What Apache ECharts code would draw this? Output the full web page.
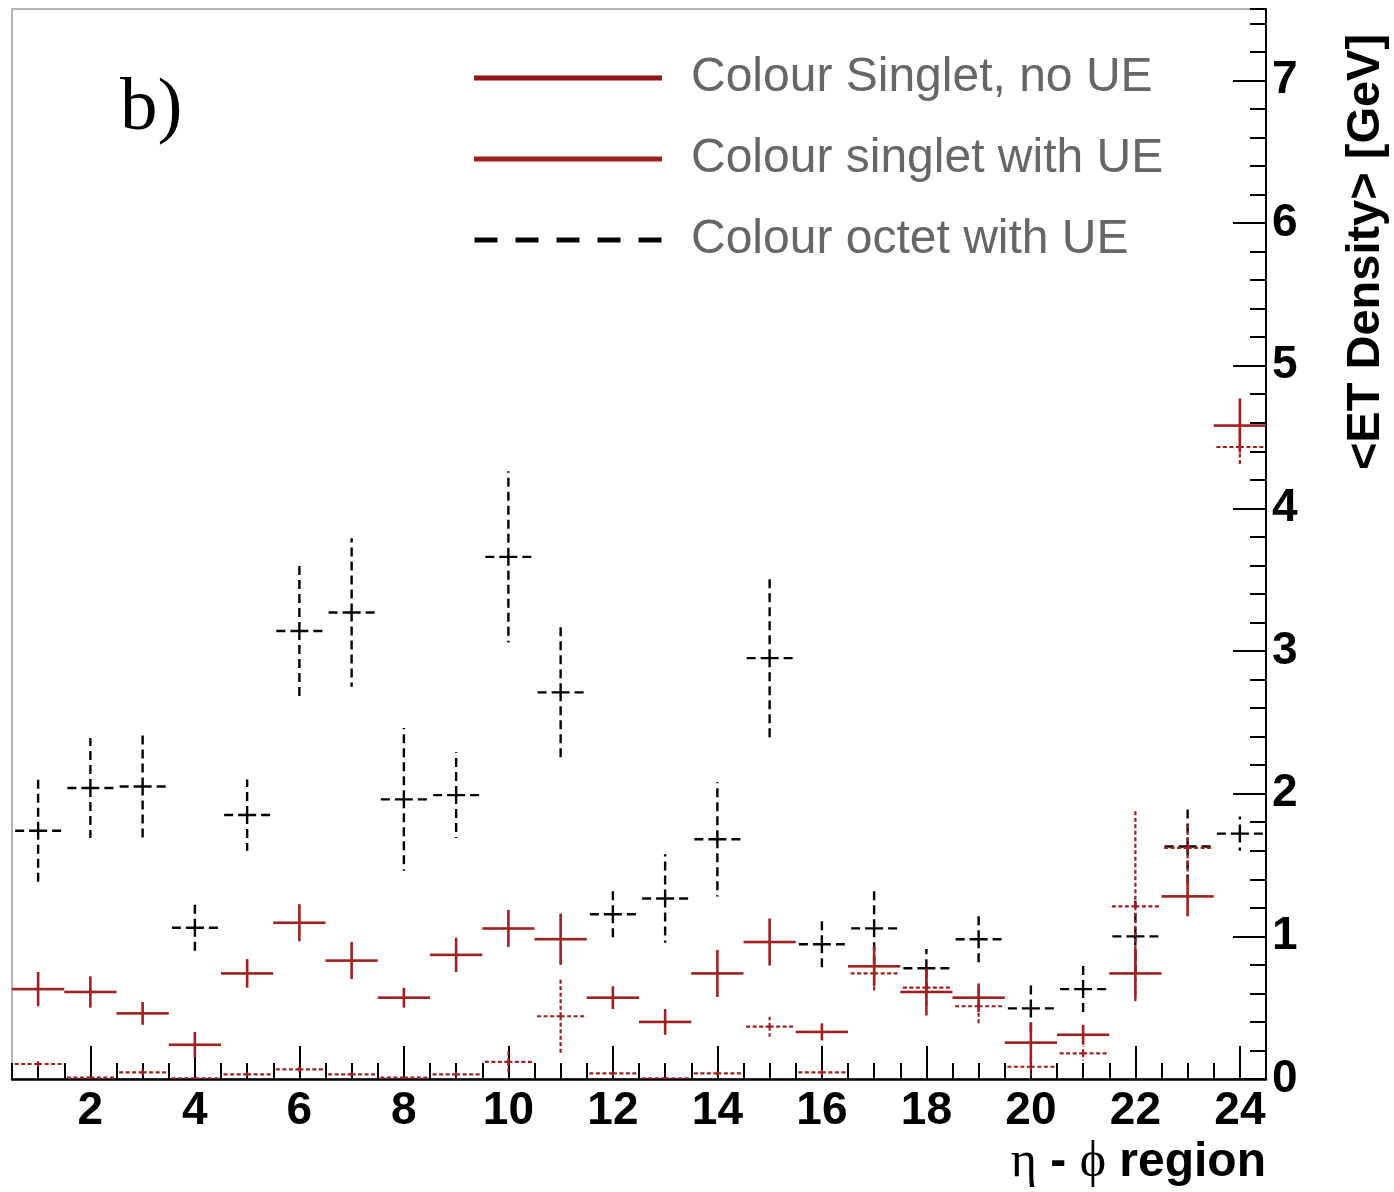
<!DOCTYPE html>
<html>
<head>
<meta charset="utf-8">
<script src="https://cdn.jsdelivr.net/npm/echarts@6/dist/echarts.min.js"></script>
<style>
html,body{margin:0;padding:0;background:#fff;}
#chart{width:1394px;height:1192px;}
</style>
</head>
<body>
<div id="chart"></div>
<script>
// ---- data ----
const bins = [1,2,3,4,5,6,7,8,9,10,11,12,13,14,15,16,17,18,19,20,21,22,23,24];
const xMajorTicks = [2,4,6,8,10,12,14,16,18,20,22,24];
const seriesNames = ['Colour Singlet, no UE', 'Colour singlet with UE', 'Colour octet with UE'];

const singletNoUE    = [0.105,0.01,0.047,0.005,0.033,0.068,0.033,0.01,0.033,0.12,0.44,0.04,0.005,0.04,0.367,0.047,0.74,0.64,0.51,0.086,0.18,1.21,1.62,4.43];
const singletNoUEErr = [0.02,0.005,0.02,0.005,0.015,0.02,0.015,0.005,0.015,0.09,0.265,0.015,0.005,0.015,0.07,0.02,0.13,0.12,0.13,0.06,0.05,0.67,0.18,0.12];

const singletUE    = [0.63,0.61,0.46,0.24,0.74,1.095,0.83,0.57,0.87,1.055,0.98,0.57,0.40,0.74,0.96,0.33,0.79,0.61,0.57,0.255,0.31,0.74,1.28,4.58];
const singletUEErr = [0.12,0.11,0.08,0.09,0.10,0.13,0.13,0.07,0.12,0.13,0.18,0.08,0.09,0.165,0.165,0.06,0.14,0.165,0.10,0.14,0.07,0.175,0.14,0.19];

const octetUE    = [1.74,2.04,2.05,1.06,1.85,3.14,3.27,1.96,1.99,3.66,2.71,1.155,1.265,1.68,2.95,0.945,1.056,0.776,0.98,0.495,0.63,1.0,1.63,1.72];
const octetUEErr = [0.36,0.35,0.38,0.18,0.25,0.49,0.52,0.50,0.30,0.60,0.46,0.175,0.31,0.40,0.56,0.185,0.27,0.135,0.18,0.175,0.175,0.25,0.29,0.12];

// ---- helpers ----
const RED = '#a01f1f';
function toData(vals, errs){ return bins.map((b,i)=>[b, vals[i], errs[i]]); }

function makeRender(lineStyle){
  return function(params, api){
    const x = api.value(0), y = api.value(1), e = api.value(2);
    const c = api.coord([x, y]);
    const l = api.coord([x - 0.5, y]);
    const r = api.coord([x + 0.5, y]);
    const t = api.coord([x, y + e]);
    const b = api.coord([x, y - e]);
    const st = Object.assign({fill: null}, lineStyle);
    const seg = (p)=>({type:'line', shape:{x1:c[0], y1:c[1], x2:p[0], y2:p[1]}, style: st});
    return {type:'group', children:[seg(l), seg(r), seg(t), seg(b)]};
  };
}

const chart = echarts.init(document.getElementById('chart'), null, {renderer:'canvas'});
const FONT = '"Liberation Sans", Arial, Helvetica, sans-serif';

const option = {
  animation: false,
  backgroundColor: '#fff',
  grid: {left: 12, right: 128, top: 9, bottom: 113, show: true, borderColor: '#9a9a9a', borderWidth: 1.5, backgroundColor: 'transparent'},
  legend: {
    orient: 'vertical',
    left: 474, top: 50,
    padding: 0,
    itemWidth: 188, itemHeight: 5,
    itemGap: 25,
    selectedMode: false,
    textStyle: {fontFamily: FONT, fontSize: 48, color: '#666666', lineHeight: 56, padding: [0,0,0,24]},
    data: [
      {name: seriesNames[0], icon: 'rect', itemStyle: {color: '#8f1515'}},
      {name: seriesNames[1], icon: 'rect', itemStyle: {color: RED}},
      {name: seriesNames[2], icon: 'path://M0 0h23v5h-23zM41 0h23v5h-23zM82 0h23v5h-23zM123 0h23v5h-23zM164 0h23v5h-23z', itemStyle: {color: '#000'}}
    ]
  },
  xAxis: [
    {
      type: 'value', min: 0.5, max: 24.5, gridIndex: 0,
      axisLine: {show: true, onZero: false, lineStyle: {color: '#000', width: 2.5}},
      axisTick: {show: true, inside: true, length: 33, customValues: xMajorTicks, lineStyle: {color: '#000', width: 2}},
      axisLabel: {show: true, customValues: xMajorTicks, margin: 9, fontFamily: FONT, fontWeight: 'bold', fontSize: 46, color: '#000'},
      splitLine: {show: false}
    },
    {
      type: 'value', min: 0.5, max: 24.5, interval: 0.5, gridIndex: 0, position: 'bottom',
      axisLine: {show: false, onZero: false},
      axisTick: {show: true, inside: true, length: 16, lineStyle: {color: '#000', width: 2}},
      axisLabel: {show: false},
      splitLine: {show: false}
    }
  ],
  yAxis: [
    {
      type: 'value', min: 0, max: 7.5, interval: 1, position: 'right', gridIndex: 0,
      axisLine: {show: true, onZero: false, lineStyle: {color: '#000', width: 2}},
      axisTick: {show: true, inside: true, length: 33, lineStyle: {color: '#000', width: 2}},
      axisLabel: {show: true, showMaxLabel: false, margin: 6, fontFamily: FONT, fontWeight: 'bold', fontSize: 46, color: '#000'},
      splitLine: {show: false}
    },
    {
      type: 'value', min: 0, max: 7.5, interval: 0.2, position: 'right', gridIndex: 0,
      axisLine: {show: false, onZero: false},
      axisTick: {show: true, inside: true, length: 16, lineStyle: {color: '#000', width: 2}},
      axisLabel: {show: false},
      splitLine: {show: false}
    }
  ],
  graphic: [
    {type: 'text', x: 120, y: 109, style: {text: 'b)', font: '75px "Liberation Serif", "Times New Roman", serif', fill: '#000', textVerticalAlign: 'middle'}},
    {type: 'text', x: 1366, y: 252, rotation: Math.PI/2, style: {text: '<ET Density> [GeV]', font: 'bold 47px ' + FONT, fill: '#000', textAlign: 'center', textVerticalAlign: 'middle'}},
    {type: 'text', x: 1266, y: 1163, style: {
      text: '{g|η} - {g|ϕ} region', textAlign: 'right', textVerticalAlign: 'middle',
      font: 'bold 48px ' + FONT, fill: '#000',
      rich: {g: {fontFamily: '"Liberation Serif", serif', fontWeight: 'normal', fontSize: 50, fill: '#000'}}
    }}
  ],
  series: [
    {
      name: seriesNames[2], type: 'custom', xAxisIndex: 0, yAxisIndex: 0, clip: true,
      itemStyle: {color: '#000'},
      renderItem: makeRender({stroke: '#000', lineWidth: 2.4, lineDash: [9, 5]}),
      data: toData(octetUE, octetUEErr), z: 3
    },
    {
      name: seriesNames[1], type: 'custom', xAxisIndex: 0, yAxisIndex: 0, clip: true,
      itemStyle: {color: RED},
      renderItem: makeRender({stroke: RED, lineWidth: 2.6}),
      data: toData(singletUE, singletUEErr), z: 4
    },
    {
      name: seriesNames[0], type: 'custom', xAxisIndex: 0, yAxisIndex: 0, clip: true,
      itemStyle: {color: RED},
      renderItem: makeRender({stroke: RED, lineWidth: 2.2, lineDash: [4, 2.5]}),
      data: toData(singletNoUE, singletNoUEErr), z: 5
    }
  ]
};
chart.setOption(option);
</script>
</body>
</html>
